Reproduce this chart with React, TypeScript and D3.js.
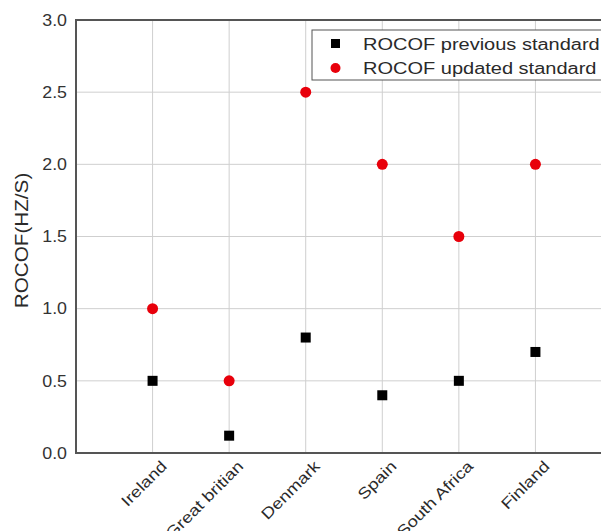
import React from "react";
import * as d3 from "d3";

const countries = ["Ireland", "Great britian", "Denmark", "Spain", "South Africa", "Finland"];
const previousStandard = [0.5, 0.12, 0.8, 0.4, 0.5, 0.7];
const updatedStandard = [1.0, 0.5, 2.5, 2.0, 1.5, 2.0];
const yTicks = [0, 0.5, 1.0, 1.5, 2.0, 2.5, 3.0];
const seriesNames = ["ROCOF previous standard", "ROCOF updated standard"];

const W = 601, H = 531;
const left = 76, top = 20, bottom = 453, right = 612;

export default function App() {
  const x = d3.scaleLinear().domain([0, countries.length + 1]).range([left, right]);
  const y = d3.scaleLinear().domain([0, 3]).range([bottom, top]);
  const font = "Arial, 'Liberation Sans', sans-serif";
  const axisColor = "#555";
  const gridColor = "#cfcfcf";
  const textColor = "#2a2a2a";
  return (
    <svg width={W} height={H} style={{ position: "absolute", left: 0, top: 0, background: "#fff" }} fontFamily={font}>
      {/* grid */}
      {yTicks.map((t) => (
        <line key={"gy" + t} x1={left} x2={right} y1={y(t)} y2={y(t)} stroke={gridColor} strokeWidth={1} />
      ))}
      {countries.map((c, i) => (
        <line key={"gx" + c} x1={x(i + 1)} x2={x(i + 1)} y1={top} y2={bottom} stroke={gridColor} strokeWidth={1} />
      ))}
      {/* axes frame */}
      <line x1={left} x2={right} y1={top} y2={top} stroke={axisColor} strokeWidth={2} />
      <line x1={left} x2={left} y1={top - 1} y2={bottom + 1} stroke={axisColor} strokeWidth={2} />
      <line x1={left} x2={right} y1={bottom} y2={bottom} stroke={axisColor} strokeWidth={2} />
      {/* y tick labels */}
      {yTicks.map((t) => (
        <text key={"ty" + t} transform={`translate(${left - 9},${y(t)}) scale(1.08,1)`} dy="0.35em" textAnchor="end" fontSize={16.5} fill="#333">
          {d3.format(".1f")(t)}
        </text>
      ))}
      {/* y label */}
      <text transform={`translate(28,${(top + bottom) / 2 + 4}) rotate(-90) scale(1.15,1)`} textAnchor="middle" fontSize={18} fill={textColor}>
        ROCOF(HZ/S)
      </text>
      {/* x labels */}
      {countries.map((c, i) => (
        <text key={"tx" + c} transform={`translate(${x(i + 1) + 7},${bottom + 6}) rotate(-45) scale(1.2,1)`} textAnchor="end" dy="0.75em" fontSize={15.5} fill={textColor}>
          {c}
        </text>
      ))}
      {/* data */}
      {previousStandard.map((v, i) => (
        <rect key={"p" + i} x={x(i + 1) - 5} y={y(v) - 5} width={10} height={10} fill="#000" />
      ))}
      {updatedStandard.map((v, i) => (
        <circle key={"u" + i} cx={x(i + 1)} cy={y(v)} r={5.5} fill="#e8000b" />
      ))}
      {/* legend */}
      <rect x={312} y={30} width={300} height={50} fill="#fff" stroke={axisColor} strokeWidth={1} />
      <rect x={331} y={39} width={9} height={9} fill="#000" />
      <text transform="translate(363,44) scale(1.25,1)" dy="0.35em" fontSize={16} fill={textColor}>{seriesNames[0]}</text>
      <circle cx={335.5} cy={68} r={5} fill="#e8000b" />
      <text transform="translate(363,68) scale(1.25,1)" dy="0.35em" fontSize={16} fill={textColor}>{seriesNames[1]}</text>
    </svg>
  );
}
